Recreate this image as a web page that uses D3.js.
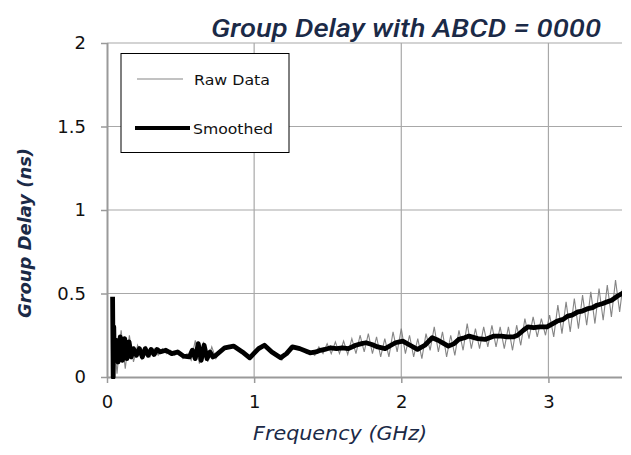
<!DOCTYPE html>
<html><head><meta charset="utf-8">
<script src="https://cdn.jsdelivr.net/npm/d3@7"></script>
<style>body{margin:0;background:#fff}</style>
</head><body>
<svg id="c" width="631" height="455"></svg>
<script>
const yTicks = [0, 0.5, 1, 1.5, 2];
const yTickLabels = ["0", "0.5", "1", "1.5", "2"];
const xTicks = [0, 1, 2, 3];
const xTickLabels = ["0", "1", "2", "3"];
const seriesNames = ["Raw Data", "Smoothed"];

// Raw data: uniform sweep starting at rawStart GHz with step rawStep GHz
const rawStart = 0.04, rawStep = 0.028;
const rawValues = [
 0.33,0.02,0.28,0.05,0.25,0.09,0.19,0.11,0.18,0.12,
 0.17,0.13,0.17,0.14,0.16,0.13,0.15,0.11,0.14,0.10,
 0.22,0.08,0.21,0.09,0.18,0.11,0.16,0.17,0.19,0.18,
 0.18,0.155,0.14,0.11,0.13,0.15,0.18,0.19,0.17,0.145,
 0.12,0.10,0.14,0.18,0.185,0.17,0.17,0.14,0.15,0.13,
 0.18,0.14,0.20,0.14,0.21,0.14,0.215,0.135,0.23,0.14,
 0.25,0.15,0.26,0.14,0.24,0.12,0.23,0.12,0.27,0.15,
 0.29,0.14,0.25,0.12,0.23,0.11,0.26,0.16,0.30,0.15,
 0.27,0.12,0.25,0.13,0.28,0.16,0.32,0.17,0.29,0.17,
 0.30,0.18,0.31,0.18,0.30,0.17,0.30,0.16,0.31,0.19,
 0.35,0.23,0.36,0.24,0.35,0.25,0.37,0.24,0.43,0.26,
 0.45,0.27,0.47,0.29,0.49,0.31,0.51,0.32,0.53,0.34,
 0.55,0.36,0.58,0.39,0.59
];

// Smoothed: frequency (GHz) and delay (ns)
const smoothFreq = [
 0.038,0.042,0.046,0.050,0.060,0.075,0.090,0.105,0.120,0.135,
 0.150,0.165,0.180,0.200,0.220,0.240,0.260,0.280,0.300,0.320,
 0.340,0.360,0.400,0.440,0.480,0.520,0.560,0.580,0.600,0.620,
 0.640,0.660,0.680,0.700,0.720,0.740,0.800,0.860,0.920,0.970,
 1.030,1.070,1.120,1.180,1.220,1.260,1.310,1.380,1.420,1.450,
 1.480,1.520,1.560,1.600,1.640,1.690,1.730,1.760,1.800,1.840,
 1.890,1.930,1.960,2.010,2.060,2.110,2.160,2.210,2.250,2.290,
 2.320,2.360,2.390,2.430,2.460,2.520,2.570,2.630,2.680,2.720,
 2.760,2.790,2.830,2.860,2.900,2.940,2.990,3.030,3.060,3.100,
 3.130,3.160,3.200,3.230,3.270,3.300,3.330,3.370,3.400,3.430,
 3.470,3.500,3.520
];
const smoothValues = [
 0.48,0.00,0.30,0.10,0.22,0.09,0.24,0.10,0.23,0.11,
 0.21,0.12,0.17,0.13,0.17,0.12,0.17,0.13,0.165,0.135,
 0.165,0.15,0.16,0.14,0.15,0.125,0.12,0.16,0.11,0.20,
 0.10,0.19,0.11,0.15,0.12,0.13,0.175,0.185,0.15,0.115,
 0.17,0.19,0.15,0.115,0.14,0.18,0.17,0.145,0.15,0.16,
 0.165,0.175,0.17,0.175,0.17,0.19,0.20,0.205,0.195,0.18,
 0.17,0.19,0.205,0.215,0.19,0.165,0.19,0.235,0.22,0.20,
 0.185,0.20,0.225,0.235,0.245,0.23,0.225,0.245,0.245,0.24,
 0.24,0.25,0.28,0.30,0.295,0.30,0.30,0.32,0.335,0.345,
 0.365,0.37,0.39,0.395,0.41,0.415,0.43,0.44,0.45,0.46,
 0.485,0.50,0.51
];

const rawData = rawValues.map((v, i) => ({x: rawStart + rawStep * i, y: v}));
const smoothData = smoothFreq.map((f, i) => ({x: f, y: smoothValues[i]}));

const svg = d3.select("#c");
const L = 107, R = 622, T = 43, B = 377;
const x = d3.scaleLinear().domain([0, 3.5]).range([L, R]);
const y = d3.scaleLinear().domain([0, 2]).range([B, T]);
const grid = "#a8a8a8", navy = "#1b2a47";
const tickFont = "'DejaVu Sans', sans-serif";

svg.append("rect").attr("width", 631).attr("height", 455).attr("fill", "#fff");

// gridlines
svg.append("g").selectAll("line").data(yTicks.slice(1)).join("line")
  .attr("x1", L).attr("x2", R).attr("y1", d => y(d)).attr("y2", d => y(d))
  .attr("stroke", grid).attr("stroke-width", 1.2);
svg.append("g").selectAll("line").data(xTicks.slice(1)).join("line")
  .attr("x1", d => x(d)).attr("x2", d => x(d)).attr("y1", T).attr("y2", B)
  .attr("stroke", grid).attr("stroke-width", 1.2);

// axes
const yAxis = d3.axisLeft(y).tickValues(yTicks).tickFormat((d, i) => yTickLabels[i]).tickSize(6).tickPadding(15);
const xAxis = d3.axisBottom(x).tickValues(xTicks).tickFormat((d, i) => xTickLabels[i]).tickSize(6).tickPadding(12);
const gy = svg.append("g").attr("transform", `translate(${L},0)`).call(yAxis);
const gx = svg.append("g").attr("transform", `translate(0,${B})`).call(xAxis);
[gx, gy].forEach(g => {
  g.select(".domain").attr("stroke", "#9a9a9a").attr("stroke-width", 2);
  g.selectAll(".tick line").attr("stroke", "#9a9a9a").attr("stroke-width", 1.5);
  g.selectAll(".tick text").attr("font-family", tickFont).attr("font-size", 18).attr("fill", "#111");
});
gx.select(".domain").attr("d", `M${L},0.5H${R}`);
gy.select(".domain").attr("d", `M0.5,${B}V${T}`);

// clip
svg.append("clipPath").attr("id", "clip").append("rect")
  .attr("x", L).attr("y", T - 2).attr("width", R - L).attr("height", B - T + 4);

const line = d3.line().x(d => x(d.x)).y(d => y(d.y));
const plot = svg.append("g").attr("clip-path", "url(#clip)");
plot.append("path").datum(rawData).attr("d", line)
  .attr("fill", "none").attr("stroke", "#858585").attr("stroke-width", 1.1);
plot.append("path").datum(smoothData).attr("d", line)
  .attr("fill", "none").attr("stroke", "#000").attr("stroke-width", 4.8)
  .attr("stroke-linejoin", "round");

// legend
const lg = svg.append("g");
lg.append("rect").attr("x", 121).attr("y", 53.5).attr("width", 168).attr("height", 99)
  .attr("fill", "#fff").attr("stroke", "#000").attr("stroke-width", 1);
lg.append("line").attr("x1", 137).attr("x2", 183).attr("y1", 79).attr("y2", 79)
  .attr("stroke", "#858585").attr("stroke-width", 1.1);
lg.append("line").attr("x1", 135).attr("x2", 190).attr("y1", 128).attr("y2", 128)
  .attr("stroke", "#000").attr("stroke-width", 4);
lg.append("text").attr("x", 194).attr("y", 84.5).text(seriesNames[0])
  .attr("font-family", tickFont).attr("font-size", 14.5).attr("fill", "#111")
  .attr("textLength", 76).attr("lengthAdjust", "spacingAndGlyphs");
lg.append("text").attr("x", 193).attr("y", 133.5).text(seriesNames[1])
  .attr("font-family", tickFont).attr("font-size", 14.5).attr("fill", "#111")
  .attr("textLength", 80).attr("lengthAdjust", "spacingAndGlyphs");

// titles
svg.append("text").attr("x", 211).attr("y", 37)
  .attr("font-family", "Roboto, 'Liberation Sans', sans-serif").attr("font-style", "italic").attr("font-weight", 500)
  .attr("font-size", 25).attr("fill", navy)
  .attr("textLength", 390).attr("lengthAdjust", "spacingAndGlyphs")
  .text("Group Delay with ABCD = 0000");
svg.append("text").attr("x", 253).attr("y", 440)
  .attr("font-family", tickFont).attr("font-style", "italic")
  .attr("font-size", 19).attr("fill", navy)
  .attr("textLength", 174).attr("lengthAdjust", "spacingAndGlyphs")
  .text("Frequency (GHz)");
svg.append("text").attr("transform", "translate(31,318) rotate(-90)")
  .attr("font-family", tickFont).attr("font-style", "italic").attr("font-weight", "bold")
  .attr("font-size", 18).attr("fill", navy)
  .attr("textLength", 170).attr("lengthAdjust", "spacingAndGlyphs")
  .text("Group Delay (ns)");
</script>
</body></html>
